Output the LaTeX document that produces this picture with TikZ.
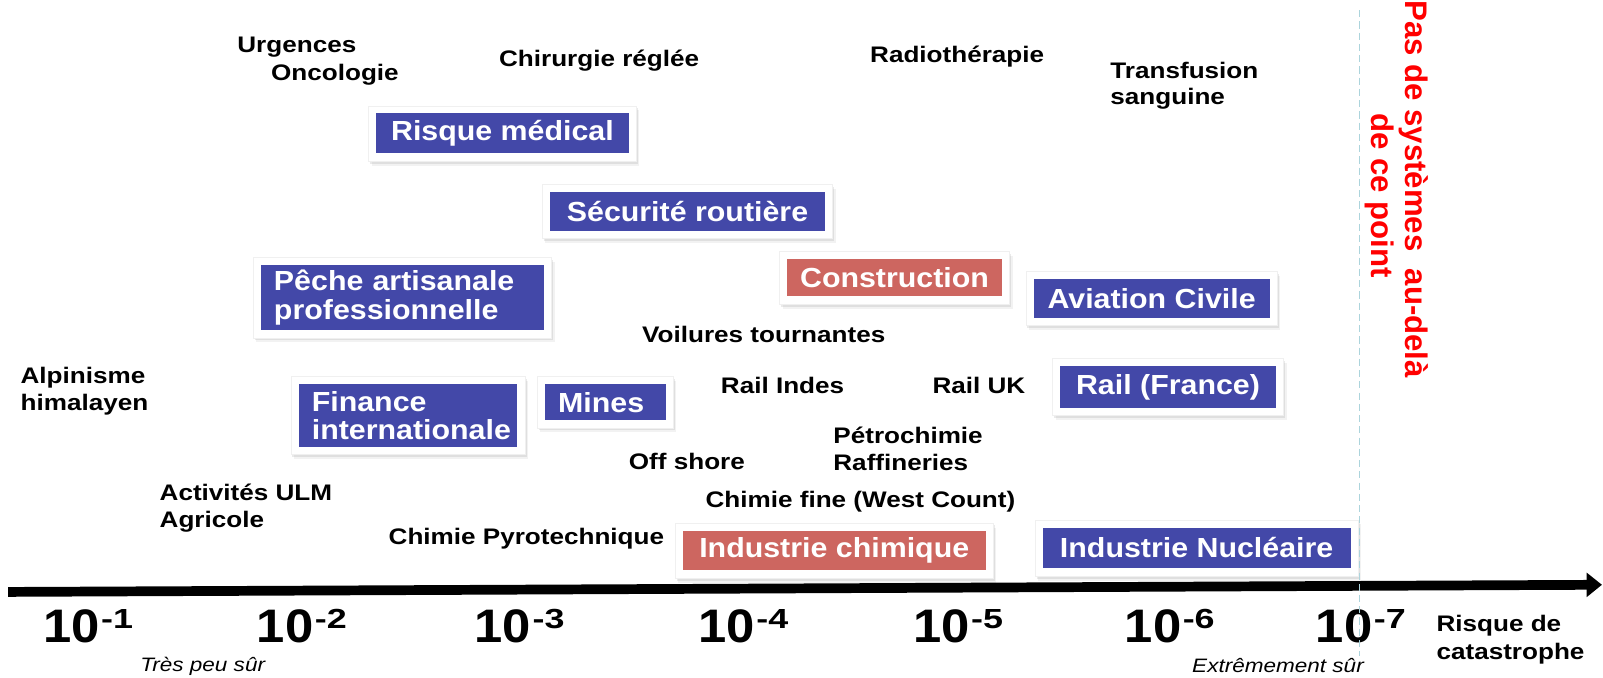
\documentclass[tikz,border=0pt]{standalone}
\usepackage{fontspec}
\setmainfont{Liberation Sans}
\newfontfamily\lblfont[FakeStretch=1.16]{Liberation Sans}
\newfontfamily\boxfont[FakeStretch=1.10]{Liberation Sans}
\newfontfamily\numfont[FakeStretch=1.08]{Liberation Sans}
\newfontfamily\supfont[FakeStretch=1.30]{Liberation Sans}
\usetikzlibrary{arrows.meta,shadows}
\definecolor{boxblue}{RGB}{67,72,168}
\definecolor{boxred}{RGB}{205,102,96}
\definecolor{dashcol}{RGB}{172,212,220}
\tikzset{
  lbl/.style={font=\lblfont\bfseries\fontsize{22}{26}\selectfont, inner sep=0pt, anchor=base west, text=black},
  note/.style={font=\lblfont\itshape\fontsize{19}{22}\selectfont, inner sep=0pt, anchor=base west, text=black},
  frame/.style={fill=white, draw=black!6, line width=0.5pt, inner sep=0pt,
    drop shadow={opacity=0.16,shadow xshift=1.5pt,shadow yshift=-2.5pt},
    drop shadow={opacity=0.10,shadow xshift=3pt,shadow yshift=-4.5pt}},
  bluebox/.style={fill=boxblue, text=white, font=\boxfont\bfseries\fontsize{27}{28}\selectfont, inner sep=0pt},
  redbox/.style={bluebox, fill=boxred},
  leftbox/.style={align=left, inner xsep=13pt},
  axnum/.style={font=\numfont\bfseries\fontsize{46}{46}\selectfont, inner sep=0pt, anchor=base west},
  redtxt/.style={font=\bfseries\fontsize{30.5}{32}\selectfont, text=red, rotate=-90, anchor=base, inner sep=0pt},
  axisline/.style={line width=9.5pt, -{Triangle[length=15pt,width=23pt]}},
  dashline/.style={draw=dashcol, line width=1.5pt, dash pattern=on 7pt off 4pt},
}
\newcommand\riskbox[7]{%
  \node[frame, minimum width=#5pt+15pt, minimum height=#6pt+15pt] (#1f) at (#3,#4) {};
  \node[#2, minimum width=#5pt, minimum height=#6pt] (#1) at (#3,#4) {#7};}
\newcommand\supx[1]{\kern1.5pt\raisebox{13.7pt}{\supfont\bfseries\fontsize{27}{27}\selectfont -#1}}
\begin{document}
\begin{tikzpicture}[x=1pt,y=-1pt]
\useasboundingbox (0,0) rectangle (1568,663);
\fill[white] (0,0) rectangle (1568,663);
\clip (0,0) rectangle (1568,663);

% boxes
\riskbox{rm}{bluebox}{491.5}{130.5}{247}{39}{Risque médical}
\riskbox{sr}{bluebox}{672.5}{207}{269}{38}{Sécurité routière}
\riskbox{con}{redbox}{875}{271.5}{210}{37}{Construction}
\riskbox{av}{bluebox}{1126.5}{292}{231}{38}{Aviation Civile}
\riskbox{pe}{bluebox,leftbox,text width=251pt}{393.5}{291}{277}{64}{Pêche artisanale\\professionnelle}
\riskbox{fi}{bluebox,leftbox,text width=188pt}{399}{406.5}{214}{61}{Finance\\internationale}
\riskbox{mi}{bluebox,leftbox,text width=92pt}{592}{393.5}{118}{35}{Mines}
\riskbox{rf}{bluebox}{1142.5}{378.5}{211}{41}{Rail (France)}
\riskbox{ic}{redbox}{816}{538.5}{296}{39}{Industrie chimique}
\riskbox{inu}{bluebox}{1170.5}{536}{301}{40}{Industrie Nucléaire}

% black labels
\node[lbl] (urg) at (232,51) {Urgences};
\node[lbl] (onc) at (265,79) {Oncologie};
\node[lbl] (chir) at (488,65) {Chirurgie réglée};
\node[lbl] (radio) at (851,61) {Radiothérapie};
\node[lbl] (trans) at (1086,77) {Transfusion};
\node[lbl] (sang) at (1086,102) {sanguine};
\node[lbl] (voil) at (628,335) {Voilures tournantes};
\node[lbl] (alp) at (20,375) {Alpinisme};
\node[lbl] (him) at (20,402) {himalayen};
\node[lbl] (rind) at (705,385) {Rail Indes};
\node[lbl] (ruk) at (912,385) {Rail UK};
\node[lbl] (petro) at (815,434) {Pétrochimie};
\node[lbl] (raff) at (815,460) {Raffineries};
\node[lbl] (off) at (615,459) {Off shore};
\node[lbl] (cfine) at (690,496) {Chimie fine (West Count)};
\node[lbl] (ulm) at (156,490) {Activités ULM};
\node[lbl] (agri) at (156,516) {Agricole};
\node[lbl] (pyro) at (380,533) {Chimie Pyrotechnique};
\node[lbl] (risq) at (1405,618) {Risque de};
\node[lbl] (cata) at (1405,645) {catastrophe};

% axis
\coordinate (axL) at (8,579);
\coordinate (axR) at (1567,572);
\draw[axisline] (axL) -- (axR);

\node[axnum] (a1) at (42,628) {10\supx{1}};
\node[axnum] (a2) at (251,628) {10\supx{2}};
\node[axnum] (a3) at (464,628) {10\supx{3}};
\node[axnum] (a4) at (683,628) {10\supx{4}};
\node[axnum] (a5) at (893,628) {10\supx{5}};
\node[axnum] (a6) at (1100,628) {10\supx{6}};
\node[axnum] (a7) at (1287,628) {10\supx{7}};

\node[note] (tps) at (137,657) {Très peu sûr};
\node[note] (exs) at (1166,658) {Extrêmement sûr};

% limit
\coordinate (dT) at (1330,10);
\coordinate (dB) at (1330,642);
\draw[dashline] (dT) -- (dB);
\node[redtxt] (pas1) at (1374.5,185) {Pas de systèmes~~au-delà};
\node[redtxt] (pas2) at (1342,191.5) {de ce point};
\end{tikzpicture}
\end{document}
